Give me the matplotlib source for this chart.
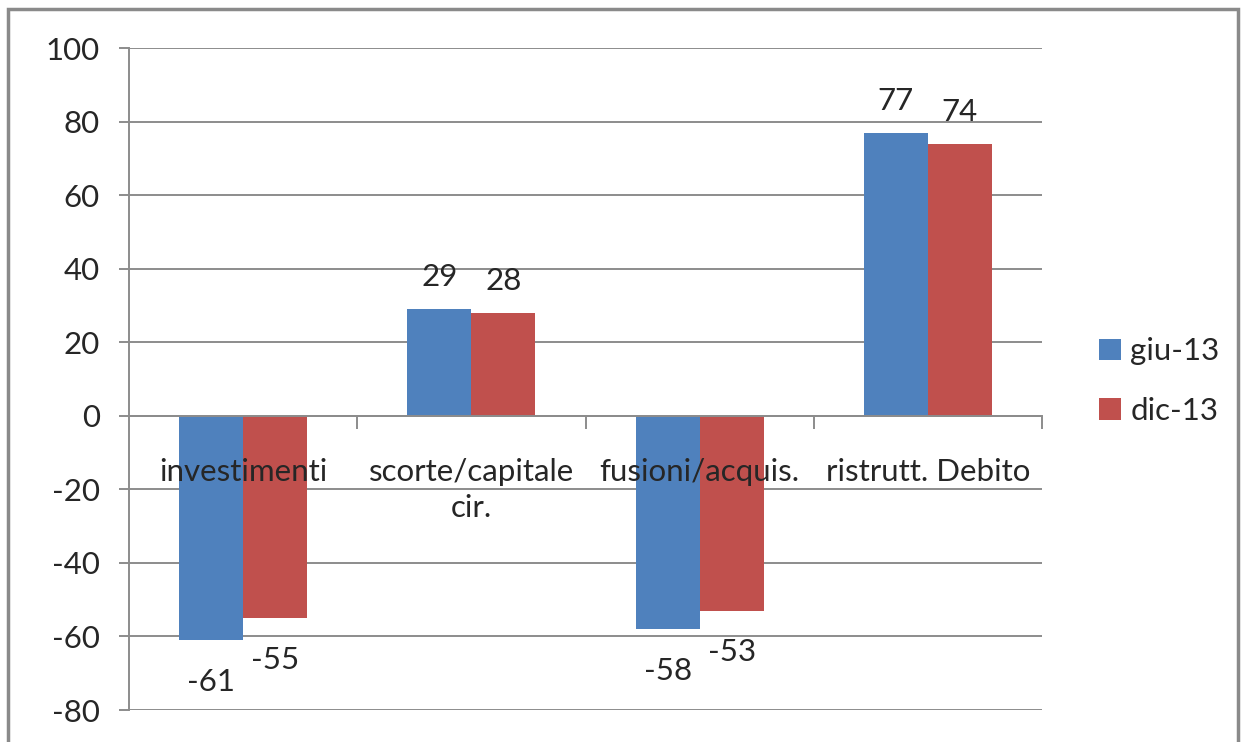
import matplotlib
matplotlib.use("Agg")
import matplotlib.pyplot as plt
from matplotlib.patches import Rectangle
import numpy as np

categories = ["investimenti", "scorte/capitale\ncir.", "fusioni/acquis.", "ristrutt. Debito"]
series_names = ["giu-13", "dic-13"]
giu13 = [-61, 29, -58, 77]
dic13 = [-55, 28, -53, 74]
y_ticks = [-80, -60, -40, -20, 0, 20, 40, 60, 80, 100]

blue = "#4F81BD"
red = "#C0504D"
grid_col = "#8C8C8C"
text_col = "#262626"
font = "Lato"
fs = 22.5

W, H = 1242, 742
fig = plt.figure(figsize=(W / 100, H / 100), dpi=100)
fig.patch.set_facecolor("white")

ax = fig.add_axes([129 / W, 1 - 710 / H, (1042 - 129) / W, (710 - 48) / H])
ax.set_facecolor("none")

x = np.arange(len(categories))
bw = 0.28
b1 = ax.bar(x - bw / 2, giu13, bw, color=blue, label=series_names[0], zorder=2)
b2 = ax.bar(x + bw / 2, dic13, bw, color=red, label=series_names[1], zorder=2)

ax.set_xlim(-0.5, len(categories) - 0.5)
ax.set_ylim(y_ticks[0], y_ticks[-1])
ax.set_yticks(y_ticks)
ax.set_yticklabels([str(v) for v in y_ticks], fontfamily=font, fontsize=fs, color=text_col)
ax.yaxis.grid(True, color=grid_col, linewidth=1.4, zorder=0)
ax.set_axisbelow(True)
ax.tick_params(axis="y", direction="out", length=7, width=1.4, color=grid_col, pad=14)

for s in ["top", "right"]:
    ax.spines[s].set_visible(False)
ax.spines["left"].set_color(grid_col)
ax.spines["left"].set_linewidth(1.4)
ax.spines["bottom"].set_position(("data", 0))
ax.spines["bottom"].set_color(grid_col)
ax.spines["bottom"].set_linewidth(1.4)
ax.set_xticks(np.arange(len(categories)) + 0.5)
ax.set_xticklabels([""] * len(categories))
ax.tick_params(axis="x", direction="out", length=9, width=1.4, color=grid_col)

# category names sit just under the zero line, over the bars
for xi, name in zip(x, categories):
    ax.text(xi, -11.5, name, ha="center", va="top", fontfamily=font, fontsize=fs,
            color=text_col, linespacing=1.35, zorder=5)

# value labels
for bars in (b1, b2):
    for rect in bars:
        v = rect.get_height()
        cx = rect.get_x() + rect.get_width() / 2
        if v >= 0:
            ax.annotate(f"{v:.0f}", (cx, v), xytext=(0, 13), textcoords="offset points",
                        ha="center", va="bottom", fontfamily=font, fontsize=fs, color=text_col)
        else:
            ax.annotate(f"{v:.0f}", (cx, v), xytext=(0, -20), textcoords="offset points",
                        ha="center", va="top", fontfamily=font, fontsize=fs, color=text_col)

leg = fig.legend(handles=[b1, b2], labels=series_names, loc="center left",
                 bbox_to_anchor=(1071 / W, 1 - 381 / H), frameon=False,
                 prop={"family": font, "size": fs}, handlelength=0.7, handleheight=0.7,
                 handletextpad=0.3, labelspacing=1.0, labelcolor=text_col)

# chart border
fig.add_artist(Rectangle((8 / W, -0.1), (1238 - 8) / W, 1.1 - 9 / H, transform=fig.transFigure,
                         fill=False, edgecolor="#8A8A8A", linewidth=2.5))

fig.savefig("out.png", dpi=100, facecolor="white")
